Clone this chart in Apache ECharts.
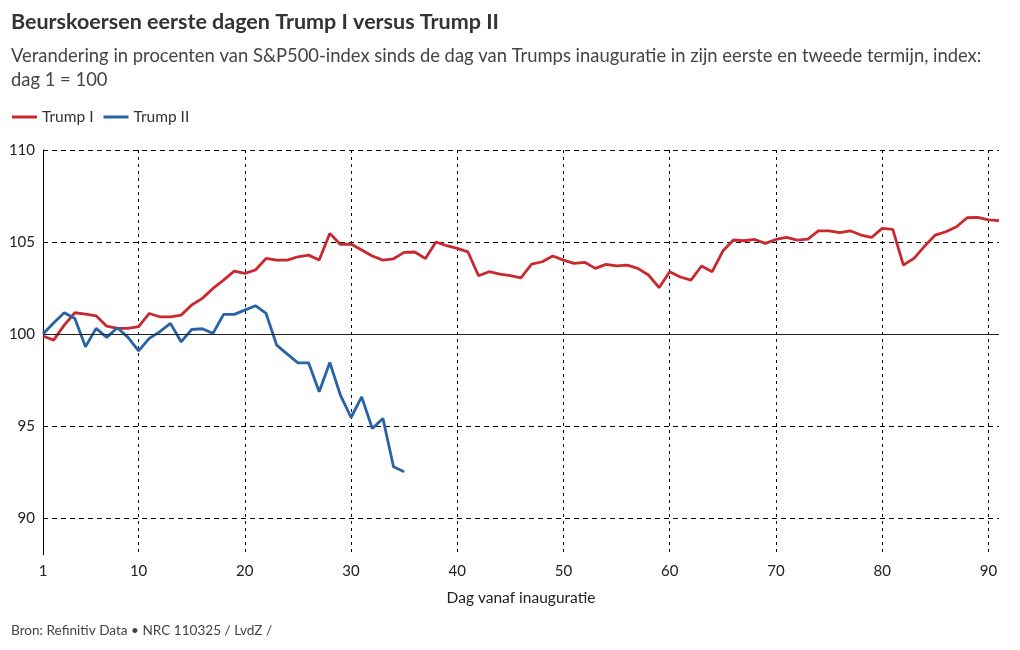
<!DOCTYPE html>
<html>
<head>
<meta charset="utf-8">
<script src="https://cdn.jsdelivr.net/npm/echarts@6/dist/echarts.min.js"></script>
<style>
html,body{margin:0;padding:0;background:#fff;}
#chart{width:1020px;height:650px;}
</style>
</head>
<body>
<div id="chart"></div>
<script>
const trumpI = [99.9,99.67,100.49,101.16,101.09,100.99,100.43,100.31,100.31,100.4,
101.12,100.94,100.94,101.03,101.58,101.94,102.48,102.93,103.42,103.3,
103.48,104.11,104.02,104.02,104.2,104.29,104.02,105.47,104.87,104.89,
104.57,104.24,104.02,104.09,104.44,104.46,104.11,105.0,104.8,104.66,
104.47,103.17,103.39,103.26,103.17,103.06,103.8,103.93,104.24,104.02,
103.84,103.9,103.57,103.79,103.7,103.75,103.57,103.21,102.52,103.39,
103.1,102.93,103.7,103.39,104.51,105.11,105.07,105.14,104.93,105.14,
105.25,105.11,105.16,105.61,105.61,105.51,105.61,105.38,105.25,105.74,
105.69,103.75,104.11,104.78,105.38,105.56,105.83,106.32,106.34,106.2,106.16];
const trumpII = [100.0,100.6,101.16,100.85,99.31,100.31,99.82,100.34,99.82,99.09,
99.77,100.13,100.58,99.58,100.25,100.29,100.04,101.07,101.07,101.3,
101.54,101.12,99.4,98.91,98.44,98.44,96.87,98.46,96.68,95.47,
96.59,94.87,95.42,92.79,92.52];
const xTicks = [1,10,20,30,40,50,60,70,80,90];
const yTicks = [90,95,100,105,110];
const seriesNames = ['Trump I','Trump II'];

const toPairs = arr => arr.map((v,i)=>[i+1,v]);
const FONT = 'Lato, "Noto Sans", sans-serif';
const chart = echarts.init(document.getElementById('chart'));
chart.setOption({
  animation:false,
  textStyle:{fontFamily:FONT},
  title:[
    {text:'Beurskoersen eerste dagen Trump I versus Trump II',left:6,top:6,
     textStyle:{fontFamily:FONT,fontSize:21.5,fontWeight:'bold',color:'#333'}},
    {text:'Verandering in procenten van S&P500-index sinds de dag van Trumps inauguratie in zijn eerste en tweede termijn, index:\ndag 1 = 100',
     left:6,top:39,textStyle:{fontFamily:FONT,fontSize:18.4,fontWeight:'normal',color:'#444',lineHeight:24}},
    {text:'Bron: Refinitiv Data \u2022 NRC 110325 / LvdZ /',left:6,top:619,
     textStyle:{fontFamily:FONT,fontSize:13.6,fontWeight:'normal',color:'#444'}}
  ],
  legend:{left:7,top:104,icon:'rect',itemWidth:25,itemHeight:3,itemGap:10,
    data:seriesNames,textStyle:{fontFamily:FONT,fontSize:15.5,color:'#333',padding:[0,0,0,0]}},
  grid:{left:43,right:21,top:150,bottom:95,containLabel:false},
  xAxis:{type:'value',min:1,max:91,
    name:'Dag vanaf inauguratie',nameLocation:'middle',nameGap:35,
    nameTextStyle:{fontFamily:FONT,fontSize:15.5,color:'#222'},
    axisLine:{show:false},
    axisTick:{show:false,customValues:xTicks},
    axisLabel:{customValues:xTicks,fontFamily:FONT,fontSize:15,color:'#222',margin:9,showMinLabel:true,showMaxLabel:true},
    splitLine:{show:true,lineStyle:{type:[3,4],color:'#000',width:1}}
  },
  yAxis:{type:'value',min:88,max:110,
    axisLine:{show:true,lineStyle:{color:'#000',width:1}},
    axisTick:{show:false,customValues:yTicks},
    axisLabel:{customValues:yTicks,fontFamily:FONT,fontSize:15,color:'#222',margin:8},
    splitLine:{show:true,lineStyle:{type:[5,4],color:'#000',width:1}}
  },
  series:[
    {name:seriesNames[0],type:'line',data:toPairs(trumpI),symbol:'none',
     lineStyle:{color:'#c9282f',width:2.8},itemStyle:{color:'#c9282f'},z:3,
     markLine:{silent:true,symbol:'none',label:{show:false},
       lineStyle:{color:'#222',type:'solid',width:1},data:[{yAxis:100}]}},
    {name:seriesNames[1],type:'line',data:toPairs(trumpII),symbol:'none',
     lineStyle:{color:'#2863a6',width:2.8},itemStyle:{color:'#2863a6'},z:4}
  ]
});
</script>
</body>
</html>
